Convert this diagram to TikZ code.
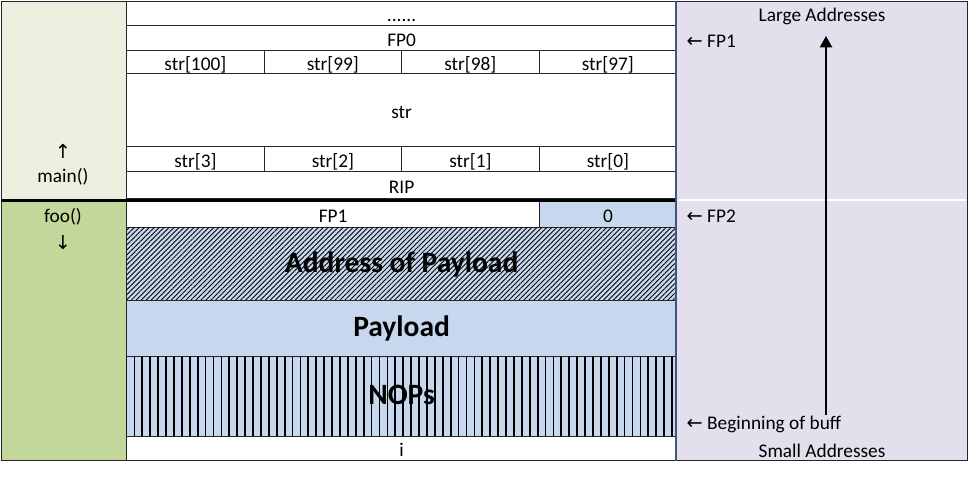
\documentclass[tikz,border=0pt]{standalone}
\usepackage{fontspec}
\setmainfont{Carlito}
\newfontfamily\symfont{DejaVu Sans}
\usetikzlibrary{patterns.meta, arrows.meta}
\definecolor{cMain}{RGB}{235,241,222}
\definecolor{cFoo}{RGB}{196,215,155}
\definecolor{cBlue}{RGB}{199,216,238}
\definecolor{cAddr}{RGB}{228,223,236}
\definecolor{cEdge}{RGB}{64,84,130}

\begin{document}
\begin{tikzpicture}[x=0.02cm, y=-0.02cm, line width=0.7pt,
                    font=\fontsize{11}{13}\selectfont,
                    cell/.style={draw=black!85, rectangle, inner sep=0pt, anchor=north west, fill=white,
                                 text height=0.95em, text depth=0pt},
                    wh/.style 2 args={minimum width=#1*0.02cm, minimum height=#2*0.02cm},
                    big/.style={font=\fontsize{16.8}{20}\selectfont\bfseries, text height=0.9em, text depth=0pt},
                    hatch/.style={fill=cBlue, postaction={pattern={Lines[angle=45,distance=2pt,line width=0.5pt]}}},
                    vlines/.style={fill=cBlue, postaction={pattern={Lines[angle=90,distance=4.5pt,line width=1pt]}}},
                    note/.style={anchor=west, inner sep=0pt}]

    \useasboundingbox (0,0) rectangle (979,491);

    % Columns (Format: frame / addresses)
    \node[cell, wh={125}{198}, fill=cMain] (mainfr) at (1,1) {};
    \node[cell, wh={125}{260}, fill=cFoo] (foofr) at (1,200) {};
    \node[cell, wh={291}{459}, fill=cAddr] (addrcol) at (676,1) {};
    \draw[white, line width=1.2pt, shorten <=1pt, shorten >=1pt]
        (addrcol.west |- foofr.north) -- (addrcol.east |- foofr.north);

    % Stack of main()
    \node[cell, wh={550}{24}] (dots) at (126,1) {......};
    \node[cell, wh={550}{25}] (fpzero) at (126,25) {FP0};
    \foreach \t [count=\k from 0] in {100,99,98,97}
        \node[cell, wh={137.5}{23}] (hi\k) at (126+137.5*\k,50) {str[\t]};
    \node[cell, wh={550}{73}] (str) at (126,73) {str};
    \foreach \t [count=\k from 0] in {3,2,1,0}
        \node[cell, wh={137.5}{25}] (lo\k) at (126+137.5*\k,146) {str[\t]};
    \node[cell, wh={550}{27}] (rip) at (126,171) {RIP};

    % Stack of foo()
    \node[cell, wh={413}{26}] (fpone) at (126,201) {FP1};
    \node[cell, wh={137}{26}, fill=cBlue] (zero) at (539,201) {0};
    \node[cell, wh={550}{73}, hatch, big] (addr) at (126,227) {Address of Payload};
    \node[cell, wh={550}{56}, fill=cBlue, big] (payload) at (126,300) {Payload};
    \node[cell, wh={550}{80}, vlines, big] (nops) at (126,356) {NOPs};
    \node[cell, wh={550}{24}] (ivar) at (126,436) {i};

    \draw[line width=1.8pt] (mainfr.south west) -- (mainfr.south west -| addrcol.west);
    \draw[cEdge, line width=1pt] (addrcol.north west) -- (addrcol.south west);

    % Labels
    \node (upm) at (63,151) {\symfont ↑};
    \node (mainlbl) at (63,177) {main()};
    \node (foolbl) at (63,217) {foo()};
    \node (downf) at (63,242) {\symfont ↓};
    \node (large) at (822,16) {Large Addresses};
    \node (small) at (822,451) {Small Addresses};
    \node[note] (fp1) at (686,41) {{\symfont ←} FP1};
    \node[note] (fp2) at (686,216) {{\symfont ←} FP2};
    \node[note] (buff) at (686,424) {{\symfont ←} Beginning of buff};

    % Growth arrow
    \coordinate (grow0) at (826,415);
    \coordinate (grow1) at (826,36);
    \draw[-{Triangle[width=7pt,length=6.5pt]}, line width=1pt] (grow0) -- (grow1);

\end{tikzpicture}
\end{document}
